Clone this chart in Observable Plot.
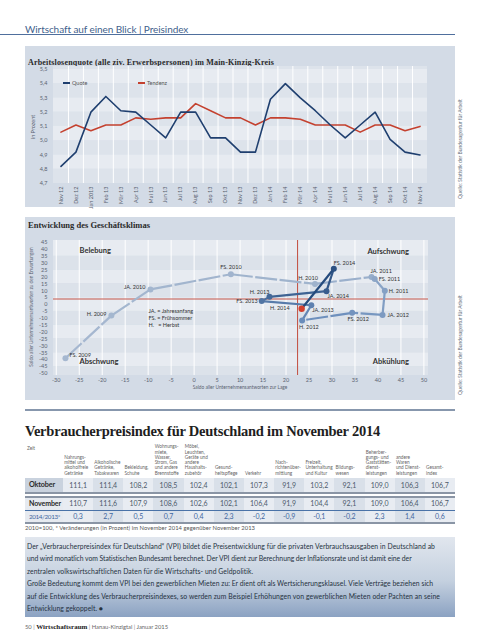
<!DOCTYPE html>
<html><head><meta charset="utf-8">
<script src="https://cdn.jsdelivr.net/npm/d3@7"></script>
<script src="https://cdn.jsdelivr.net/npm/@observablehq/plot@0.6"></script>
<style>
body{margin:0;background:#fff;}
#page{position:relative;width:480px;height:640px;overflow:hidden;font-family:Lato,"Open Sans",sans-serif;color:#333;}
.a{position:absolute;white-space:nowrap;}
.serifb{font-family:"Liberation Serif",serif;font-weight:bold;}
.vsrc{font-size:5px;color:#6a7380;text-align:center;transform:rotate(-90deg);width:120px;line-height:6px;}
.vlab{color:#5a6270;text-align:center;transform:rotate(-90deg);line-height:6px;}
.txt{font-size:6.8px;color:#26323f;line-height:8px;}
.hd{font-size:4.7px;line-height:5.3px;color:#666;}
</style></head><body><div id="page"></div>
<script>
// ---------- data: Arbeitslosenquote ----------
const months = ["Nov 12","Dez 12","Jan 2013","Feb 13","Mär 13","Apr 13","Mai 13","Jun 13","Jul 13","Aug 13","Sep 13","Okt 13","Nov 13","Dez 13","Jan 14","Feb 14","Mär 14","Apr 14","Mai 14","Jun 14","Jul 14","Aug 14","Sep 14","Okt 14","Nov 14"];
const quote   = [4.82,4.92,5.20,5.31,5.21,5.20,5.11,5.02,5.20,5.20,5.02,5.02,4.92,4.92,5.29,5.40,5.30,5.21,5.11,5.02,5.11,5.20,5.01,4.92,4.90];
const tendenz = [5.06,5.11,5.07,5.11,5.11,5.16,5.15,5.16,5.16,5.26,5.21,5.16,5.16,5.11,5.16,5.16,5.15,5.11,5.11,5.11,5.06,5.11,5.11,5.07,5.10];
const yTicks1 = [4.7,4.8,4.9,5.0,5.1,5.2,5.3,5.4,5.5];

// ---------- data: Geschäftsklima ----------
const klimaLabels = ["FS. 2009","H. 2009","JA. 2010","FS. 2010","H. 2010","JA. 2011","FS. 2011","H. 2011","JA. 2012","FS. 2012","H. 2012","JA. 2013","FS. 2013","H. 2013","JA. 2014","FS. 2014","H. 2014"];
const lage        = [-28,-18,-9.5,8,26.3,38.6,39.3,41.5,41,34.4,23.5,25.5,14.7,16.4,28.8,30.4,23.4];
const erwartungen = [-39,-8,11,22,15,20,18.5,10,-7.5,-6,-11.5,-0.5,2.5,5.6,9.7,26,-3];
const refLage = 22.5, refErwartungen = 4;
const xTicks2 = d3.range(-30, 51, 5);
const yTicks2 = d3.range(-50, 46, 5);
const quadrants = ["Belebung","Aufschwung","Abschwung","Abkühlung"];
const legendText = "JA. = Jahresanfang\nFS. = Frühsommer\nH.   = Herbst";

// ---------- data: Verbraucherpreisindex ----------
const vpiCols = ["Nahrungs-\nmittel und\nalkoholfreie\nGetränke","Alkoholische\nGetränke,\nTabakwaren","Bekleidung,\nSchuhe","Wohnungs-\nmiete,\nWasser,\nStrom, Gas\nund andere\nBrennstoffe","Möbel,\nLeuchten,\nGeräte und\nandere\nHaushalts-\nzubehör","Gesund-\nheitspflege","Verkehr","Nach-\nrichtenüber-\nmittlung","Freizeit,\nUnterhaltung\nund Kultur","Bildungs-\nwesen","Beherber-\ngungs- und\nGaststätten-\ndienst-\nleistungen","andere\nWaren\nund Dienst-\nleistungen","Gesamt-\nindex"];
const vpiOktober  = [111.1,111.4,108.2,108.5,102.4,102.1,107.3,91.9,103.2,92.1,109.0,106.3,106.7];
const vpiNovember = [110.7,111.6,107.9,108.6,102.6,102.1,106.4,91.9,104.4,92.1,109.0,106.4,106.7];
const vpiChange   = [0.3,2.7,0.5,0.7,0.4,2.3,-0.2,-0.9,-0.1,-0.2,2.3,1.4,0.6];
const rowNames = ["Oktober","November","2014/2013*"];

// ---------- text ----------
const para1 = ["Der „Verbraucherpreisindex für Deutschland“ (VPI) bildet die Preisentwicklung für die privaten Verbrauchsausgaben in Deutschland ab",
"und wird monatlich vom Statistischen Bundesamt berechnet. Der VPI dient zur Berechnung der Inflationsrate und ist damit eine der",
"zentralen volkswirtschaftlichen Daten für die Wirtschafts- und Geldpolitik."];
const para2 = ["Große Bedeutung kommt dem VPI bei den gewerblichen Mieten zu: Er dient oft als Wertsicherungsklausel. Viele Verträge beziehen sich",
"auf die Entwicklung des Verbraucherpreisindexes, so werden zum Beispiel Erhöhungen von gewerblichen Mieten oder Pachten an seine",
"Entwicklung gekoppelt. ●"];

const page = document.getElementById('page');
function el(tag, cls, style, text){const e=document.createElement(tag); if(cls) e.className=cls; Object.assign(e.style, style||{}); if(text!=null) e.textContent=text; page.appendChild(e); return e;}
function box(l,t,w,h,bg){return el('div','a',{left:l+'px',top:t+'px',width:w+'px',height:h+'px',background:bg});}
function fit(e, w){const cur=e.getBoundingClientRect().width; const n=e.textContent.length; e.style.letterSpacing=((w-cur)/n)+'px';}
function vlabel(text, cx, cy, w, fs){return el('div','a vlab',{left:(cx-w/2)+'px',top:(cy-3)+'px',width:w+'px',fontSize:fs+'px'},text);}

// header
const hdr = el('div','a',{left:'25px',top:'24px',fontSize:'10px',color:'#3f5f8c',lineHeight:'11px'},'Wirtschaft auf einen Blick | Preisindex');
box(0,34,455,1,'#4f6f9d');

// panel 1
box(25,46,430,161,'#d3dbe6');
const t1 = el('div','a serifb',{left:'28px',top:'58px',fontSize:'8px',color:'#2a2a2a',lineHeight:'9px'},'Arbeitslosenquote (alle ziv. Erwerbspersonen) im Main-Kinzig-Kreis');

const rows1 = months.map((m,i)=>({i, m, quote: quote[i], tendenz: tendenz[i]}));
const x1d = [-0.5, months.length-0.5];
const y1d = [4.7, 5.52];
const bands1 = yTicks1.map((t,k)=>({k, y1:t, y2: k<yTicks1.length-1 ? yTicks1[k+1] : y1d[1]}));
const chart1 = Plot.plot({
  width:430, height:142, marginLeft:28, marginRight:28, marginTop:0, marginBottom:25,
  style:{background:'none', fontFamily:'Lato, sans-serif', fontSize:'5.5px', color:'#5a6270', overflow:'visible'},
  x:{domain:x1d}, y:{domain:y1d},
  marks:[
    Plot.rect(bands1.filter(b=>b.k%2===0),{x1:()=>x1d[0],x2:()=>x1d[1],y1:'y1',y2:'y2',fill:'#dde3eb'}),
    Plot.rect(bands1.filter(b=>b.k%2===1),{x1:()=>x1d[0],x2:()=>x1d[1],y1:'y1',y2:'y2',fill:'#e7ebf1'}),
    Plot.ruleX(d3.range(months.length-1).map(i=>i+0.5),{stroke:'#fff',strokeWidth:1}),
    Plot.line(rows1,{x:'i',y:'tendenz',stroke:'#c4412f',strokeWidth:1.6}),
    Plot.line(rows1,{x:'i',y:'quote',stroke:'#1f3f6f',strokeWidth:1.6}),
    Plot.axisX({ticks:d3.range(months.length),tickFormat:i=>months[i],tickRotate:-90,tickSize:0,tickPadding:3,label:null}),
    Plot.axisY({ticks:yTicks1,tickFormat:d=>d.toFixed(1).replace('.',','),tickSize:0,tickPadding:6,label:null})
  ]
});
Object.assign(chart1.style,{position:'absolute',left:'25px',top:'66px'});
page.appendChild(chart1);
vlabel('in Prozent', 33, 127, 60, 5.5);
// legend 1
box(63,82,7,2,'#1f3f6f');
el('div','a',{left:'72px',top:'79.5px',fontSize:'5.5px',color:'#555',lineHeight:'6px'},'Quote');
box(138,82,7,2,'#c4412f');
el('div','a',{left:'147px',top:'79.5px',fontSize:'5.5px',color:'#555',lineHeight:'6px'},'Tendenz');
el('div','a vsrc',{left:'400px',top:'146px'},'Quelle: Statistik der Bundesagentur für Arbeit');

// panel 2
box(25,217,430,183,'#d3dbe6');
const t2 = el('div','a serifb',{left:'28px',top:'221px',fontSize:'8.5px',color:'#2a2a2a',lineHeight:'9px'},'Entwicklung des Geschäftsklimas');

const pts = klimaLabels.map((label,i)=>({label,i,lage:lage[i],erw:erwartungen[i]}));
const colorAt = d3.scaleLinear().domain([0,4,10,16]).range(['#a6b8d0','#9fb3cd','#6a8dbb','#1f4577']);
const segs = pts.slice(1).map((p,k)=>({k,x1:pts[k].lage,y1:pts[k].erw,x2:p.lage,y2:p.erw,c:colorAt(k+0.5)}));
const x2d = [-30.6, 51], y2d = [-51.5, 46.5];
const bandEdges = [y2d[1],35,25,15,5,-5,-15,-25,-35,-45,y2d[0]];
const bands2 = bandEdges.slice(1).map((b,k)=>({k,y1:b,y2:bandEdges[k]}));
const lblPos = {
 "FS. 2009":["start",4,-3.5],"H. 2009":["end",-5,-1],"JA. 2010":["end",-5,-2],"FS. 2010":["middle",0,-7],
 "H. 2010":["middle",-7,-6],"JA. 2011":["start",-1,-6],"FS. 2011":["start",4,0],"H. 2011":["start",4,0],
 "JA. 2012":["start",5,0],"FS. 2012":["middle",6,6],"H. 2012":["start",-3,7],"JA. 2013":["start",1,5],
 "FS. 2013":["end",-4,0],"H. 2013":["end",0,-5],"JA. 2014":["start",1,5],"FS. 2014":["start",0,-6],"H. 2014":["end",-12,0]
};
const qPos = [["top-left","start",26,7.5],["top-right","end",-19.5,8.5],["bottom-left","start",26,-11.4],["bottom-right","end",-19.5,-11.4]];
const chart2 = Plot.plot({
  width:430, height:160, marginLeft:28, marginRight:27, marginTop:4, marginBottom:21,
  style:{background:'none', fontFamily:'Lato, sans-serif', fontSize:'5.5px', color:'#5a6270', overflow:'visible'},
  x:{domain:x2d}, y:{domain:y2d},
  marks:[
    Plot.rect(bands2.filter(b=>b.k%2===0),{x1:()=>x2d[0],x2:()=>x2d[1],y1:'y1',y2:'y2',fill:'#e7ebf1'}),
    Plot.rect(bands2.filter(b=>b.k%2===1),{x1:()=>x2d[0],x2:()=>x2d[1],y1:'y1',y2:'y2',fill:'#dce2ea'}),
    Plot.ruleX(xTicks2,{stroke:'#fff',strokeWidth:1}),
    Plot.ruleY([refErwartungen],{stroke:'#c4574a',strokeWidth:1.1}),
    Plot.ruleX([refLage],{stroke:'#c4574a',strokeWidth:1.1}),
    ...segs.map(s=>Plot.link([s],{x1:'x1',y1:'y1',x2:'x2',y2:'y2',stroke:s.c,strokeWidth:2.2,strokeLinecap:'butt',strokeDasharray:s.k<10?'22,2.5':null})),
    ...pts.slice(0,-1).map(p=>Plot.dot([p],{x:'lage',y:'erw',fill:colorAt(p.i),r:3})),
    Plot.dot(pts.slice(-1),{x:'lage',y:'erw',fill:'#d2402f',r:3.2}),
    ...pts.map(p=>{const [ta,dx,dy]=lblPos[p.label]; return Plot.text([p],{x:'lage',y:'erw',text:'label',textAnchor:ta,dx,dy,fontSize:5.5,fill:'#333'});}),
    ...quadrants.map((q,k)=>Plot.text([q],{frameAnchor:qPos[k][0],textAnchor:qPos[k][1],dx:qPos[k][2],dy:qPos[k][3],fontSize:7.5,fontWeight:'bold',fill:'#333'})),
    Plot.text([legendText],{frameAnchor:'top-left',textAnchor:'start',lineAnchor:'top',dx:95,dy:67,fontSize:5.5,lineHeight:1.3,fill:'#333'}),
    Plot.axisX({ticks:xTicks2,tickFormat:d=>String(d),tickSize:0,tickPadding:3,label:null}),
    Plot.axisY({ticks:yTicks2,tickFormat:d=>String(d),tickSize:0,tickPadding:6,label:null})
  ]
});
Object.assign(chart2.style,{position:'absolute',left:'25px',top:'236px'});
page.appendChild(chart2);
vlabel('Saldo aller Unternehmensantworten zu den Erwartungen', 31, 307, 140, 4.8);
el('div','a',{left:'140px',top:'384px',width:'200px',textAlign:'center',fontSize:'4.8px',color:'#5a6270',lineHeight:'6px'},'Saldo aller Unternehmensantworten zur Lage');
el('div','a vsrc',{left:'400px',top:'342px'},'Quelle: Statistik der Bundesagentur für Arbeit');

// separator + heading
box(25,409,430,2,'#8797ad');
const h2 = el('div','a serifb',{left:'25px',top:'424px',fontSize:'14.5px',color:'#1e1e1e',lineHeight:'15px'},'Verbraucherpreisindex für Deutschland im November 2014');

// table
const colX0 = 63, colW = (455-63)/13;
el('div','a hd',{left:'27px',top:'446px'},'Zeit');
vpiCols.forEach((c,k)=>{
  el('div','a hd',{left:(colX0+k*colW+1.2)+'px',bottom:(640-476)+'px',whiteSpace:'pre'},c);
});
const fmt = v=>v.toFixed(1).replace('.',',');
const rowSpec = [
  {vals:vpiOktober, top:478, h:14.3, zeitBg:'#c9d2de', fw:'bold', nc:'#2b2b2b', vc:'#4d5a6b', nfs:7.2, nw:26},
  {vals:vpiNovember, top:498.3, h:11.3, zeitBg:'#e6eaf0', fw:'bold', nc:'#2b2b2b', vc:'#4d5a6b', nfs:7, nw:32},
  {vals:vpiChange, top:510.6, h:11.2, zeitBg:'#e6eaf0', fw:'normal', nc:'#3f67a0', vc:'#3f67a0', nfs:6.3, nw:31}
];
rowSpec.forEach((r,ri)=>{
  box(25,r.top,colX0-25,r.h,r.zeitBg);
  const n = el('div','a',{left:'29px',top:r.top+'px',height:r.h+'px',lineHeight:r.h+'px',fontSize:r.nfs+'px',fontWeight:r.fw,color:r.nc},rowNames[ri]);
  fit(n, r.nw);
  r.vals.forEach((v,k)=>{
    box(colX0+k*colW,r.top,colW,r.h,k%2===0?'#e8ecf2':'#d9e0e9');
    el('div','a',{left:(colX0+k*colW)+'px',top:r.top+'px',width:colW+'px',height:r.h+'px',lineHeight:r.h+'px',textAlign:'center',fontSize:'7px',color:r.vc},fmt(v));
  });
});
box(25,492.3,430,2,'#8a95a5');
box(25,496.3,430,2,'#8a95a5');
box(25,509.6,430,1,'#4a73a8');
box(25,521.8,430,2,'#8a95a5');
const fn = el('div','a',{left:'25px',top:'524px',fontSize:'5.8px',color:'#555',lineHeight:'7px'},'2010=100, * Veränderungen (in Prozent) im November 2014 gegenüber November 2013');

// text box
box(25,537,430,80,'linear-gradient(#e1e6ee, #c4d0df 55%, #8ba2c2)');
const tl = [];
para1.forEach((s,k)=>tl.push(el('div','a txt',{left:'27px',top:(541.5+k*12.6)+'px'},s)));
para2.forEach((s,k)=>tl.push(el('div','a txt',{left:'27px',top:(579+k*12.6)+'px'},s)));

// footer
const ft = el('div','a',{left:'25px',top:'623px',fontSize:'5.8px',color:'#666',lineHeight:'8px'});
ft.innerHTML = '50 <span style="color:#888">|</span> <b style="font-family:\'Liberation Serif\',serif;font-size:7px;color:#222">Wirtschaftsraum</b> <span style="color:#888">|</span> Hanau-Kinzigtal <span style="color:#888">|</span> Januar 2015';

// fit widths
fit(hdr,163); fit(t1,246); fit(t2,122); fit(h2,355); fit(fn,230);
[408,385,226,406,413,76].forEach((w,k)=>fit(tl[k],w));
</script></body></html>
